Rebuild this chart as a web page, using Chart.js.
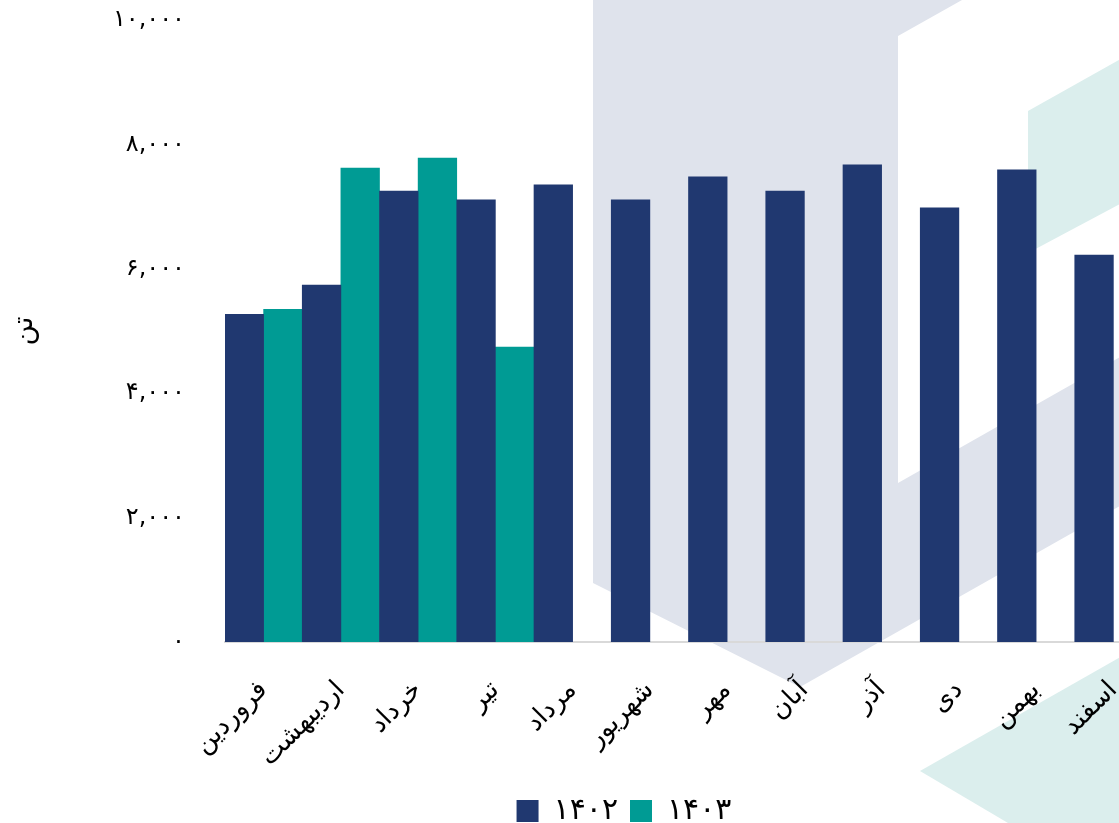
<!DOCTYPE html>
<html lang="fa">
<head>
<meta charset="utf-8">
<script src="https://cdn.jsdelivr.net/npm/chart.js@4.4.1/dist/chart.umd.min.js"></script>
<style>
html, body { margin: 0; padding: 0; background: #fff; overflow: hidden; }
#wrap { width: 1240px; height: 823px; }
</style>
</head>
<body>
<div id="wrap"><canvas id="chart" width="1240" height="823"></canvas></div>
<script>
// داده‌ها
const months = ['فروردین', 'اردیبهشت', 'خرداد', 'تیر', 'مرداد', 'شهریور', 'مهر', 'آبان', 'آذر', 'دی', 'بهمن', 'اسفند'];
const tons1402 = [5270, 5740, 7250, 7110, 7350, 7110, 7480, 7250, 7670, 6980, 7590, 6220];
const tons1403 = [5350, 7620, 7780, 4740, null, null, null, null, null, null, null, null];
const seriesNames = ['۱۴۰۲', '۱۴۰۳'];
const yTicks = [0, 2000, 4000, 6000, 8000, 10000];
const yTickLabels = ['۰', '۲,۰۰۰', '۴,۰۰۰', '۶,۰۰۰', '۸,۰۰۰', '۱۰,۰۰۰'];
const yTitle = 'تن';

const FONT = "'DejaVu Sans', 'Noto Sans', sans-serif";

// اشکال پس‌زمینه (لوگو)
function poly(c, color, pts) {
    c.beginPath();
    c.moveTo(pts[0][0], pts[0][1]);
    for (let i = 1; i < pts.length; i++) c.lineTo(pts[i][0], pts[i][1]);
    c.closePath();
    c.fillStyle = color;
    c.fill();
}

const bgShapes = {
    id: 'bgShapes',
    beforeDraw(chart) {
        const c = chart.ctx;
        c.save();
        c.fillStyle = '#ffffff';
        c.fillRect(0, 0, chart.width, chart.height);
        poly(c, '#dfe3ec', [[593, 0], [962, 0], [898, 36], [898, 483], [1240, 289], [1240, 438], [800, 687], [593, 583]]);
        poly(c, '#dbeeed', [[1028, 111], [1240, -8], [1240, 140], [1028, 253]]);
        poly(c, '#dbeeed', [[920, 771], [1240, 589], [1240, 960]]);
        c.restore();
    }
};

new Chart(document.getElementById('chart'), {
    type: 'bar',
    data: {
        labels: months,
        datasets: [
            { label: seriesNames[0], data: tons1402, backgroundColor: '#203870', barPercentage: 1, categoryPercentage: 1 },
            { label: seriesNames[1], data: tons1403, backgroundColor: '#009b94', barPercentage: 1, categoryPercentage: 1 }
        ]
    },
    options: {
        responsive: false,
        animation: false,
        events: [],
        devicePixelRatio: 1,
        layout: { padding: { top: 20, left: 8, right: 0, bottom: -13 } },
        plugins: {
            legend: {
                position: 'bottom',
                labels: { color: '#000', font: { family: FONT, size: 30 }, boxWidth: 22, boxHeight: 22, padding: 12 }
            },
            tooltip: { enabled: false }
        },
        scales: {
            x: {
                grid: { display: false },
                border: { display: true, color: '#d9d9d9', width: 2 },
                ticks: { color: '#000', font: { family: FONT, size: 26 }, minRotation: 45, maxRotation: 45, autoSkip: false, padding: 25 },
                afterFit: (s) => { s.height = 142; }
            },
            y: {
                min: 0, max: 10000,
                grid: { display: false },
                border: { display: false },
                afterBuildTicks: (s) => { s.ticks = yTicks.map(v => ({ value: v })); },
                ticks: {
                    color: '#000', padding: 32,
                    font: { family: FONT, size: 24 },
                    callback: (v) => yTickLabels[yTicks.indexOf(v)]
                },
                title: { display: true, text: yTitle, color: '#000', font: { family: FONT, size: 28 }, padding: 0 },
                afterFit: (s) => { s.width = 217; s.paddingTop = 14; s.paddingBottom = 14; }
            },
            yr: {
                position: 'right',
                display: true,
                grid: { display: false },
                border: { display: false },
                ticks: { display: false },
                afterFit: (s) => { s.width = 88; }
            }
        }
    },
    plugins: [bgShapes]
});
</script>
</body>
</html>
